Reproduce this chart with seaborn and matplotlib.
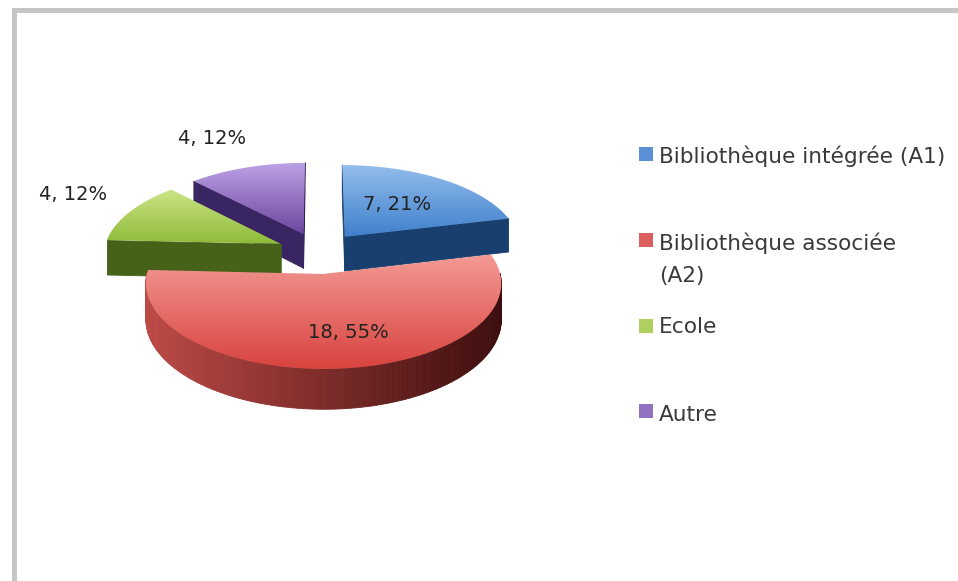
import numpy as np
import pandas as pd
import seaborn as sns
import matplotlib
matplotlib.use('Agg')
import matplotlib.pyplot as plt
from matplotlib.collections import PolyCollection
from matplotlib.colors import LinearSegmentedColormap
from matplotlib.patches import Polygon
from matplotlib.transforms import Affine2D

# data
categories = ['Bibliothèque intégrée (A1)', 'Bibliothèque associée\n(A2)', 'Ecole', 'Autre']
counts = [7, 18, 4, 4]
percents = [21, 55, 12, 12]

# look
explode = [0.24, 0.26, 0.24, 0.24]
slice_radius = [1.0, 0.97, 1.0, 1.0]
top_colors = [('#93bdec', '#3f80cc'), ('#f29a94', '#d9433f'), ('#cbe486', '#8fbb38'), ('#bda2e6', '#6d479f')]
side_colors = [('#1c4576', '#163a66'), ('#bd4a46', '#3d0e0e'), ('#4c6a1c', '#405a16'), ('#3d2a68', '#33205a')]
key_colors = ['#5b8fd6', '#dd5f5c', '#aed05f', '#8f72c0']
label_pos = [(397, 204), (348, 333), (73, 194), (212, 139)]
key_x = [646, 646, 646, 646]
key_y = [154, 240, 326, 411]
text_y = [156, 259, 327, 415]
draw_order = [3, 0, 2, 1]

# perspective fitted on the picture
cx, cy, scale_x, scale_y, tilt, depth = 319, 252, 177, 82.5, 0.108, 35

sns.set_theme(style='white')
plt.rcParams['font.family'] = ['DejaVu Sans']


def project(pts, z=0.0):
    w = 1 + tilt * pts[:, 1]
    return np.column_stack([cx + scale_x * pts[:, 0] / w, cy - scale_y * pts[:, 1] / w + z / w])


fig = plt.figure(figsize=(9.58, 5.81), dpi=100, facecolor='white')

# grey frame of the screenshot
frame = fig.add_axes([13.5 / 958, 0, 1 - 13.5 / 958, 1 - 9.5 / 581])
frame.set_xticks([])
frame.set_yticks([])
sns.despine(ax=frame, top=False, left=False, right=True, bottom=True)
for name in ['top', 'left']:
    frame.spines[name].set_linewidth(3.6)
    frame.spines[name].set_color('#c6c6c6')

ax = fig.add_axes([0, 0, 1, 1])
ax.patch.set_alpha(0)

wedges, _ = ax.pie(counts, explode=explode, startangle=90, counterclock=False)
outlines = []
for wedge, r in zip(wedges, slice_radius):
    model = wedge.get_patch_transform().transform_path(wedge.get_path())
    pts = model.to_polygons(Affine2D().scale(600))[0] / 600
    apex = np.array(wedge.center)
    outlines.append(apex + (pts - apex) * r)
    wedge.remove()

z = 3
for i in draw_order:
    poly = outlines[i]
    sign = np.sign(np.sum(poly[:-1, 0] * poly[1:, 1] - poly[1:, 0] * poly[:-1, 1]))
    # only the walls that face the viewer
    quads, mids = [], []
    for a, b in zip(poly[:-1], poly[1:]):
        if (b[0] - a[0]) * sign <= 0:
            continue
        seg = np.array([a, b])
        quads.append(np.vstack([project(seg), project(seg[::-1], depth)]))
        mids.append(seg[:, 1].mean())
    quads = np.array(quads)[np.argsort(mids)[::-1]]
    top = project(poly)
    span = max(top[:, 0].max() - top[:, 0].min(), 1)
    side_cmap = LinearSegmentedColormap.from_list('side', side_colors[i])
    side_rgb = side_cmap((quads[:, :, 0].mean(axis=1) - top[:, 0].min()) / span)
    ax.add_collection(PolyCollection(quads, facecolors=side_rgb, edgecolors=side_rgb, linewidths=0.6, zorder=z))
    z += 1

    # top face with a vertical gradient
    clip = Polygon(top, closed=True, transform=ax.transData)
    top_cmap = LinearSegmentedColormap.from_list('top', top_colors[i])
    grad = np.linspace(0, 1, 128).reshape(-1, 1)
    img = ax.imshow(grad, cmap=top_cmap, aspect='auto', zorder=z, interpolation='bilinear',
                    extent=(top[:, 0].min(), top[:, 0].max(), top[:, 1].max(), top[:, 1].min()), origin='upper')
    img.set_clip_path(clip)
    z += 1

for i in range(len(counts)):
    ax.text(label_pos[i][0], label_pos[i][1], f'{counts[i]}, {percents[i]}%', ha='center', va='center',
            fontsize=14, color='#222222', zorder=z)

# legend keys and text
keys = pd.DataFrame({'x': key_x, 'y': key_y, 'cat': categories})
sns.scatterplot(data=keys, x='x', y='y', hue='cat', palette=key_colors, marker='s', s=110, linewidth=0,
                legend=False, ax=ax, zorder=z)
for i, cat in enumerate(categories):
    ax.text(659, text_y[i], cat, ha='left', va='center', fontsize=15.6, color='#3a3a3a', linespacing=1.75, zorder=z)

ax.set_aspect('auto')
ax.set_xlim(0, 958)
ax.set_ylim(581, 0)
ax.set_xlabel('')
ax.set_ylabel('')
ax.axis('off')

fig.savefig('out.png', dpi=100)
